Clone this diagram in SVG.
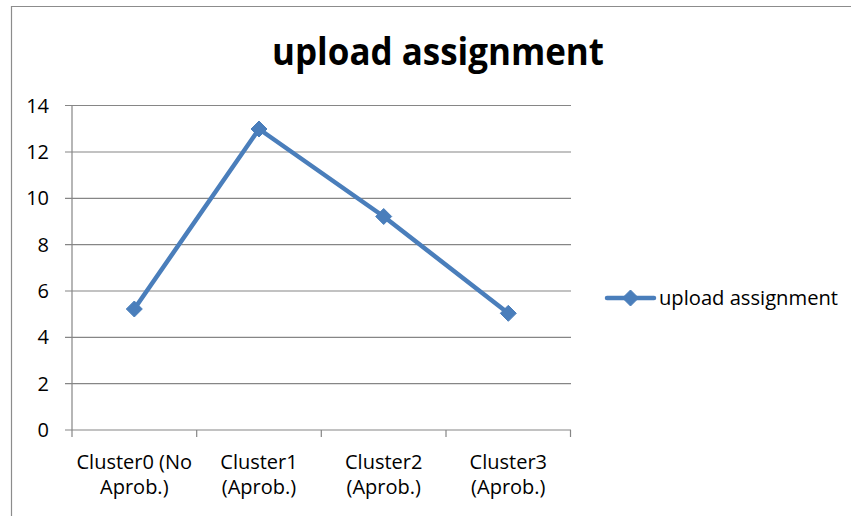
<svg xmlns="http://www.w3.org/2000/svg" width="851" height="516" viewBox="0 0 851 516">
  <style>
    .frame { fill: none; stroke: #8c8c8c; stroke-width: 1.2; }
    .grid { stroke: #868686; stroke-width: 1.2; fill: none; }
    .axis { stroke: #868686; stroke-width: 1.2; fill: none; }
    .tick { font-family: "Open Sans", "Liberation Sans", Arial, sans-serif; font-size: 20px; fill: #000; }
    .title { font-family: "Open Sans", "Liberation Sans", Arial, sans-serif; font-size: 38px; font-weight: bold; fill: #000; }
    .series { stroke: #4a7ebb; stroke-width: 4.5; fill: none; stroke-linejoin: round; stroke-linecap: round; }
    .marker { fill: #4a7ebb; stroke: #4a7ebb; stroke-width: 1; }
  </style>
  <defs>
    <path id="diamond" d="M0,-8 L8,0 L0,8 L-8,0 Z"/>
  </defs>

  <rect x="0" y="0" width="851" height="516" fill="#ffffff"/>
  <!-- chart frame (runs off the right and bottom edges) -->
  <path class="frame" d="M11.5,520 V6.5 H855"/>

  <!-- title -->
  <text class="title" x="438" y="65" text-anchor="middle" textLength="332" lengthAdjust="spacingAndGlyphs">upload assignment</text>

  <!-- horizontal gridlines -->
  <g id="gridlines">
    <path class="grid" d="M65,105.5 H571 M65,152 H571 M65,198.3 H571 M65,244.7 H571 M65,291 H571 M65,337.3 H571 M65,383.6 H571"/>
  </g>

  <!-- axes -->
  <g id="axes">
    <path class="axis" d="M72,105.5 V437 M65,430 H571"/>
    <path class="axis" d="M196.7,430 V437 M321.3,430 V437 M446,430 V437 M570.5,430 V437"/>
  </g>

  <!-- value axis labels -->
  <g id="y-labels" class="tick" text-anchor="end">
    <text x="49" y="112.5">14</text>
    <text x="49" y="159">12</text>
    <text x="49" y="205.3">10</text>
    <text x="49" y="251.7">8</text>
    <text x="49" y="298">6</text>
    <text x="49" y="344.3">4</text>
    <text x="49" y="390.6">2</text>
    <text x="49" y="437">0</text>
  </g>

  <!-- category labels -->
  <g id="x-labels" class="tick" text-anchor="middle" font-size="20.5">
    <text x="134.3" y="469">Cluster0 (No</text>
    <text x="134.3" y="494">Aprob.)</text>
    <text x="259" y="469">Cluster1</text>
    <text x="259" y="494">(Aprob.)</text>
    <text x="383.7" y="469">Cluster2</text>
    <text x="383.7" y="494">(Aprob.)</text>
    <text x="508.3" y="469">Cluster3</text>
    <text x="508.3" y="494">(Aprob.)</text>
  </g>

  <!-- data series -->
  <g id="connectors">
    <polyline class="series" points="134.3,309 259,129 383.7,216.5 508.3,313.3"/>
  </g>
  <g id="point-cluster0"><use href="#diamond" class="marker" x="134.3" y="309"/></g>
  <g id="point-cluster1"><use href="#diamond" class="marker" x="259" y="129"/></g>
  <g id="point-cluster2"><use href="#diamond" class="marker" x="383.7" y="216.5"/></g>
  <g id="point-cluster3"><use href="#diamond" class="marker" x="508.3" y="313.3"/></g>

  <!-- legend -->
  <g id="legend">
    <line class="series" x1="607" y1="298" x2="654" y2="298"/>
    <use href="#diamond" class="marker" x="630.5" y="298"/>
    <text class="tick" x="659" y="305" font-size="20.5" textLength="179" lengthAdjust="spacingAndGlyphs">upload assignment</text>
  </g>
</svg>
